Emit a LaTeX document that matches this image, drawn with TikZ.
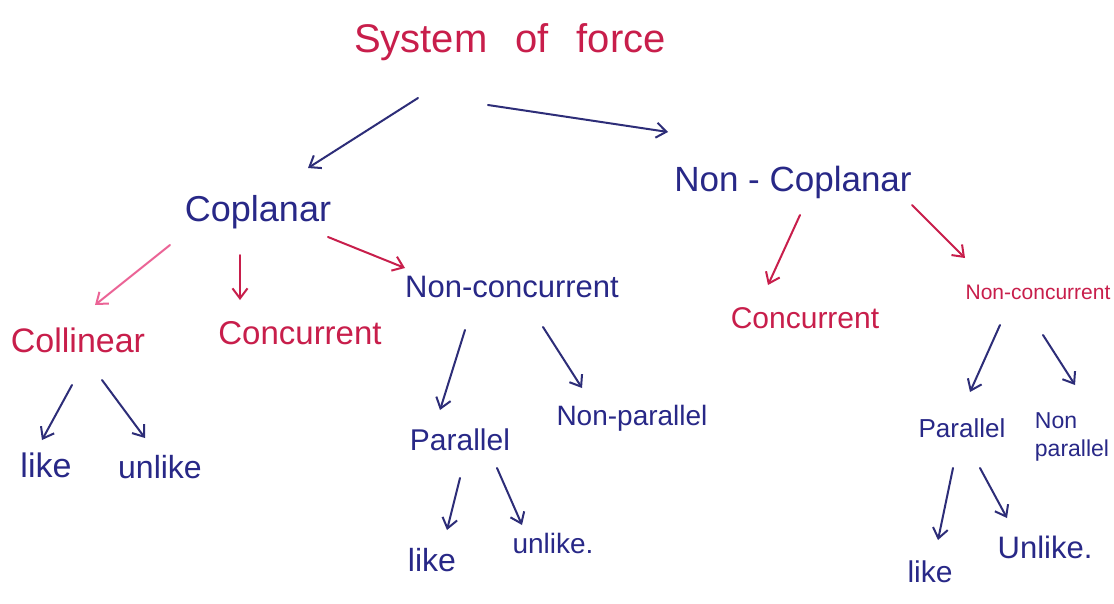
\documentclass[tikz,border=0pt]{standalone}
\usepackage{fontspec}
\setmainfont{Liberation Sans}
\usetikzlibrary{arrows.meta}
\definecolor{redink}{RGB}{200,30,75}
\definecolor{pinkink}{RGB}{235,100,150}
\definecolor{navyink}{RGB}{45,45,120}
\definecolor{blueink}{RGB}{40,40,135}
\tikzset{
  lbl/.style={inner sep=0pt, anchor=center},
  redt/.style={lbl, text=redink},
  bluet/.style={lbl, text=blueink},
  arr/.style={line width=2pt, line cap=round, -{Straight Barb[length=10pt,width=15pt,line width=2pt]}},
}
\begin{document}
\begin{tikzpicture}[x=1pt,y=-1pt]
\fill[white] (0,0) rectangle (1114,603);
\useasboundingbox (0,0) rectangle (1114,603);
% nodes
\node[redt, font=\fontsize{40}{44}\selectfont] (sof) at (510,42) {System\hspace{0.7em}of\hspace{0.7em}force};
\node[bluet, font=\fontsize{36}{40}\selectfont] (cop) at (258,212) {Coplanar};
\node[bluet, font=\fontsize{35}{40}\selectfont] (ncop) at (793,182) {Non - Coplanar};
\node[redt, font=\fontsize{34}{40}\selectfont] (col) at (78,340) {Collinear};
\node[redt, font=\fontsize{33}{40}\selectfont] (conL) at (300,333) {Concurrent};
\node[bluet, font=\fontsize{31}{36}\selectfont] (nconL) at (512,287) {Non-concurrent};
\node[redt, font=\fontsize{30}{36}\selectfont] (conR) at (805,318) {Concurrent};
\node[redt, font=\fontsize{21}{26}\selectfont] (nconR) at (1038,292) {Non-concurrent};
\node[bluet, font=\fontsize{34}{40}\selectfont] (likeA) at (46,465) {like};
\node[bluet, font=\fontsize{32}{40}\selectfont] (unlikeA) at (160,467) {unlike};
\node[bluet, font=\fontsize{30}{36}\selectfont] (parM) at (460,440) {Parallel};
\node[bluet, font=\fontsize{28}{34}\selectfont] (nparM) at (632,418) {Non-parallel};
\node[bluet, font=\fontsize{32}{38}\selectfont] (likeM) at (432,560) {like};
\node[bluet, font=\fontsize{28}{34}\selectfont] (unlikeM) at (553,543) {unlike.};
\node[bluet, font=\fontsize{26}{32}\selectfont] (parR) at (962,428) {Parallel};
\node[bluet, font=\fontsize{23}{28}\selectfont, align=left] (nparR) at (1072,437) {Non\\parallel};
\node[bluet, font=\fontsize{30}{36}\selectfont] (likeR) at (930,572) {like};
\node[bluet, font=\fontsize{31}{36}\selectfont] (unlikeR) at (1045,547) {Unlike.};
% connectors
\draw[arr, navyink] ([shift={(-92,56)}]sof.center) -- ([shift={(50,-44)}]cop.center);
\draw[arr, navyink] ([shift={(-22,63)}]sof.center) -- ([shift={(-125,-50)}]ncop.center);
\draw[arr, pinkink] ([shift={(-88,33)}]cop.center) -- ([shift={(17,-35)}]col.center);
\draw[arr, redink] ([shift={(-18,43)}]cop.center) -- ([shift={(-60,-33)}]conL.center);
\draw[arr, redink] ([shift={(70,25)}]cop.center) -- ([shift={(-107,-19)}]nconL.center);
\draw[arr, redink] ([shift={(7,33)}]ncop.center) -- ([shift={(-37,-33)}]conR.center);
\draw[arr, redink] ([shift={(119,23)}]ncop.center) -- ([shift={(-73,-34)}]nconR.center);
\draw[arr, navyink] ([shift={(-6,45)}]col.center) -- ([shift={(-4,-25)}]likeA.center);
\draw[arr, navyink] ([shift={(24,40)}]col.center) -- ([shift={(-15,-29)}]unlikeA.center);
\draw[arr, navyink] ([shift={(-47,43)}]nconL.center) -- ([shift={(-20,-30)}]parM.center);
\draw[arr, navyink] ([shift={(31,40)}]nconL.center) -- ([shift={(-50,-30)}]nparM.center);
\draw[arr, navyink] ([shift={(0,38)}]parM.center) -- ([shift={(15,-30)}]likeM.center);
\draw[arr, navyink] ([shift={(37,28)}]parM.center) -- ([shift={(-31,-18)}]unlikeM.center);
\draw[arr, navyink] ([shift={(-38,33)}]nconR.center) -- ([shift={(8,-36)}]parR.center);
\draw[arr, navyink] ([shift={(5,43)}]nconR.center) -- ([shift={(3,-52)}]nparR.center);
\draw[arr, navyink] ([shift={(-9,40)}]parR.center) -- ([shift={(8,-32)}]likeR.center);
\draw[arr, navyink] ([shift={(18,40)}]parR.center) -- ([shift={(-38,-29)}]unlikeR.center);
\end{tikzpicture}
\end{document}
